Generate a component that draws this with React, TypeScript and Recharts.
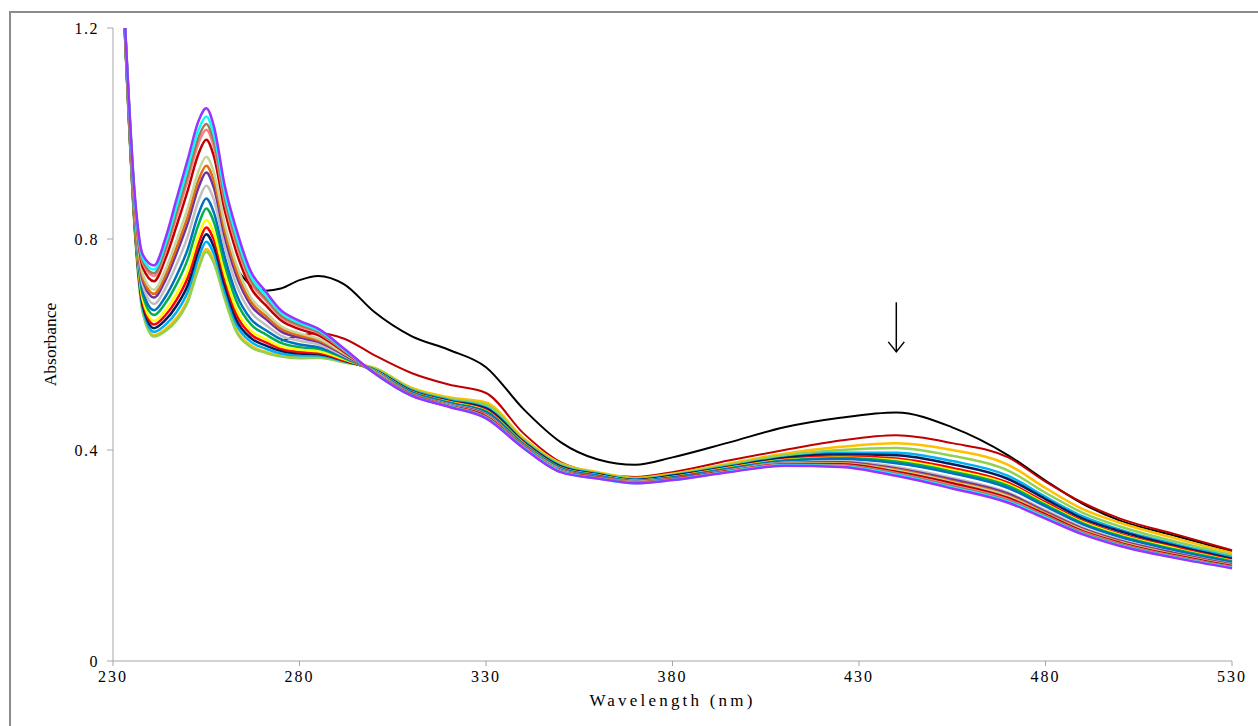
import { LineChart, Line, XAxis, YAxis, ReferenceLine } from "recharts"

// wavelength grid (nm)
const wavelengths = [
  233, 236, 238, 241, 244, 247, 250, 253, 255, 257, 260, 263, 267, 271, 275, 280, 285, 292,
  300, 310, 320, 330, 340, 350, 360, 370, 380, 395, 410, 425, 440, 455, 470, 480, 490, 500, 515, 530,
]

const xTicks = [230, 280, 330, 380, 430, 480, 530]
const yTicks = [0, 0.4, 0.8, 1.2]

// absorbance readings, one array per spectrum (first spectrum first)
const blackAbs = [
  null, null, null, null, null, null, null, null, null, null, null,
  0.745, 0.712, 0.702, 0.706, 0.722, 0.73, 0.714,
  0.662, 0.616, 0.59, 0.557, 0.478, 0.415, 0.382, 0.372, 0.386, 0.414, 0.443, 0.461, 0.471, 0.443, 0.39, 0.342, 0.298, 0.266, 0.237, 0.208,
]
const darkRed2Abs = [
  null, null, null, null, null, null, null, null, null, null, null, null, null, null,
  0.607, 0.616, 0.622, 0.611,
  0.58, 0.546, 0.524, 0.508, 0.432, 0.377, 0.356, 0.349, 0.358, 0.38, 0.4, 0.418, 0.428, 0.413, 0.386, 0.34, 0.3, 0.27, 0.24, 0.21,
]
const goldAbs = [
  1.22, 0.801, 0.662, 0.618, 0.629, 0.65, 0.685, 0.751, 0.781, 0.76, 0.689, 0.629, 0.598, 0.586, 0.579, 0.575, 0.576, 0.567,
  0.556, 0.518, 0.5, 0.49, 0.423, 0.375, 0.358, 0.347, 0.355, 0.374, 0.393, 0.406, 0.413, 0.4, 0.372, 0.328, 0.288, 0.262, 0.232, 0.205,
]
const lightGreenAbs = [
  1.22, 0.8, 0.66, 0.615, 0.625, 0.645, 0.68, 0.745, 0.776, 0.755, 0.685, 0.625, 0.595, 0.584, 0.577, 0.574, 0.575, 0.566,
  0.555, 0.516, 0.497, 0.486, 0.42, 0.373, 0.356, 0.346, 0.353, 0.372, 0.39, 0.4, 0.404, 0.389, 0.361, 0.319, 0.281, 0.255, 0.226, 0.201,
]
const lightBlueAbs = [
  1.221, 0.805, 0.668, 0.624, 0.637, 0.661, 0.699, 0.765, 0.795, 0.773, 0.7, 0.639, 0.605, 0.592, 0.583, 0.579, 0.579, 0.568,
  0.553, 0.514, 0.495, 0.481, 0.417, 0.37, 0.355, 0.344, 0.352, 0.369, 0.386, 0.395, 0.395, 0.379, 0.351, 0.311, 0.274, 0.249, 0.221, 0.197,
]
const navyAbs = [
  1.222, 0.808, 0.673, 0.631, 0.646, 0.673, 0.712, 0.779, 0.809, 0.786, 0.711, 0.648, 0.612, 0.598, 0.588, 0.583, 0.582, 0.569,
  0.552, 0.512, 0.493, 0.479, 0.416, 0.369, 0.354, 0.343, 0.351, 0.368, 0.385, 0.392, 0.39, 0.373, 0.345, 0.307, 0.27, 0.246, 0.218, 0.194,
]
const redAbs = [
  1.223, 0.812, 0.679, 0.638, 0.655, 0.684, 0.726, 0.793, 0.822, 0.799, 0.722, 0.658, 0.619, 0.604, 0.592, 0.586, 0.584, 0.57,
  0.551, 0.511, 0.492, 0.476, 0.414, 0.367, 0.352, 0.342, 0.349, 0.367, 0.382, 0.388, 0.384, 0.366, 0.338, 0.301, 0.265, 0.241, 0.215, 0.191,
]
const yellowAbs = [
  1.224, 0.815, 0.684, 0.645, 0.664, 0.696, 0.739, 0.807, 0.836, 0.812, 0.732, 0.668, 0.626, 0.61, 0.596, 0.59, 0.587, 0.572,
  0.551, 0.51, 0.491, 0.474, 0.413, 0.366, 0.352, 0.342, 0.349, 0.366, 0.381, 0.386, 0.381, 0.362, 0.335, 0.298, 0.263, 0.239, 0.213, 0.19,
]
const greenAbs = [
  1.226, 0.821, 0.693, 0.656, 0.678, 0.714, 0.761, 0.829, 0.858, 0.833, 0.75, 0.684, 0.638, 0.619, 0.603, 0.595, 0.592, 0.574,
  0.55, 0.51, 0.49, 0.473, 0.412, 0.366, 0.351, 0.341, 0.348, 0.365, 0.38, 0.385, 0.378, 0.359, 0.332, 0.296, 0.261, 0.237, 0.211, 0.189,
]
const blueAbs = [
  1.227, 0.826, 0.701, 0.665, 0.69, 0.73, 0.78, 0.849, 0.877, 0.851, 0.765, 0.697, 0.648, 0.627, 0.61, 0.6, 0.595, 0.576,
  0.55, 0.509, 0.489, 0.472, 0.411, 0.365, 0.351, 0.341, 0.348, 0.364, 0.379, 0.383, 0.375, 0.356, 0.328, 0.293, 0.259, 0.235, 0.209, 0.187,
]
const grayAbs = [
  1.229, 0.832, 0.711, 0.677, 0.706, 0.751, 0.804, 0.874, 0.901, 0.875, 0.784, 0.715, 0.661, 0.637, 0.617, 0.607, 0.6, 0.578,
  0.549, 0.507, 0.487, 0.468, 0.409, 0.363, 0.349, 0.34, 0.346, 0.362, 0.376, 0.378, 0.368, 0.347, 0.319, 0.286, 0.253, 0.23, 0.205, 0.184,
]
const purpleAbs = [
  1.231, 0.839, 0.721, 0.689, 0.721, 0.772, 0.829, 0.899, 0.926, 0.898, 0.803, 0.732, 0.674, 0.648, 0.625, 0.613, 0.605, 0.58,
  0.548, 0.506, 0.486, 0.467, 0.408, 0.362, 0.349, 0.339, 0.346, 0.362, 0.375, 0.377, 0.365, 0.344, 0.317, 0.283, 0.251, 0.228, 0.204, 0.183,
]
const orangeAbs = [
  1.232, 0.842, 0.726, 0.696, 0.73, 0.783, 0.842, 0.913, 0.939, 0.911, 0.814, 0.742, 0.681, 0.654, 0.63, 0.617, 0.608, 0.582,
  0.548, 0.506, 0.485, 0.466, 0.408, 0.361, 0.348, 0.339, 0.345, 0.361, 0.374, 0.375, 0.363, 0.341, 0.314, 0.281, 0.249, 0.226, 0.202, 0.182,
]
const oliveAbs = [
  1.233, 0.846, 0.733, 0.704, 0.741, 0.797, 0.858, 0.93, 0.956, 0.927, 0.827, 0.754, 0.689, 0.661, 0.635, 0.621, 0.611, 0.583,
  0.548, 0.505, 0.485, 0.465, 0.407, 0.361, 0.348, 0.339, 0.345, 0.361, 0.374, 0.374, 0.361, 0.339, 0.312, 0.279, 0.248, 0.225, 0.201, 0.181,
]
const darkRedAbs = [
  1.236, 0.855, 0.746, 0.72, 0.762, 0.824, 0.891, 0.963, 0.988, 0.958, 0.853, 0.777, 0.707, 0.674, 0.646, 0.629, 0.618, 0.586,
  0.547, 0.505, 0.484, 0.464, 0.407, 0.36, 0.348, 0.338, 0.345, 0.36, 0.373, 0.373, 0.359, 0.337, 0.309, 0.278, 0.246, 0.224, 0.2, 0.18,
]
const pinkAbs = [
  1.237, 0.86, 0.754, 0.73, 0.774, 0.841, 0.91, 0.983, 1.007, 0.976, 0.868, 0.791, 0.717, 0.683, 0.652, 0.634, 0.622, 0.588,
  0.547, 0.504, 0.483, 0.462, 0.406, 0.359, 0.347, 0.338, 0.344, 0.359, 0.372, 0.371, 0.356, 0.333, 0.306, 0.275, 0.244, 0.222, 0.198, 0.178,
]
const brownAbs = [
  1.238, 0.862, 0.758, 0.735, 0.781, 0.85, 0.92, 0.994, 1.018, 0.986, 0.876, 0.799, 0.722, 0.687, 0.655, 0.637, 0.624, 0.589,
  0.547, 0.504, 0.483, 0.462, 0.405, 0.359, 0.347, 0.338, 0.344, 0.359, 0.371, 0.37, 0.355, 0.331, 0.304, 0.274, 0.243, 0.221, 0.197, 0.178,
]
const cyanAbs = [
  1.239, 0.866, 0.763, 0.742, 0.79, 0.861, 0.934, 1.008, 1.032, 0.999, 0.887, 0.808, 0.729, 0.693, 0.66, 0.641, 0.627, 0.59,
  0.546, 0.503, 0.483, 0.461, 0.405, 0.359, 0.346, 0.337, 0.343, 0.359, 0.371, 0.369, 0.353, 0.329, 0.302, 0.272, 0.241, 0.219, 0.196, 0.177,
]
const violetAbs = [
  1.24, 0.87, 0.77, 0.75, 0.8, 0.875, 0.95, 1.025, 1.048, 1.015, 0.9, 0.82, 0.738, 0.7, 0.665, 0.645, 0.63, 0.592,
  0.546, 0.503, 0.482, 0.46, 0.404, 0.358, 0.346, 0.337, 0.343, 0.358, 0.37, 0.368, 0.351, 0.327, 0.3, 0.27, 0.24, 0.218, 0.195, 0.176,
]

// arrow annotation (data coords)
const arrowX = 440
const arrowFrom = 0.68
const arrowTo = 0.586

const series = [
  { key: "s01", values: blackAbs, color: "#000000", width: 2 },
  { key: "s02", values: darkRed2Abs, color: "#c00000", width: 2 },
  { key: "s03", values: goldAbs, color: "#ffc000", width: 2.5 },
  { key: "s04", values: lightGreenAbs, color: "#92d050", width: 2.5 },
  { key: "s05", values: lightBlueAbs, color: "#00b0f0", width: 2.5 },
  { key: "s06", values: navyAbs, color: "#002060", width: 2.5 },
  { key: "s07", values: redAbs, color: "#ff0000", width: 2.5 },
  { key: "s08", values: yellowAbs, color: "#ffff00", width: 2.5 },
  { key: "s09", values: greenAbs, color: "#00b050", width: 2.5 },
  { key: "s10", values: blueAbs, color: "#0070c0", width: 2.5 },
  { key: "s11", values: grayAbs, color: "#bfbfbf", width: 2.5 },
  { key: "s12", values: purpleAbs, color: "#7030a0", width: 2.5 },
  { key: "s13", values: orangeAbs, color: "#e46c0a", width: 2.5 },
  { key: "s14", values: oliveAbs, color: "#c3d69b", width: 2.5 },
  { key: "s15", values: darkRedAbs, color: "#c00000", width: 2.5 },
  { key: "s16", values: pinkAbs, color: "#ff7c80", width: 2.5 },
  { key: "s17", values: brownAbs, color: "#a0785a", width: 2.5 },
  { key: "s18", values: cyanAbs, color: "#00ffff", width: 2.5 },
  { key: "s19", values: violetAbs, color: "#9933ff", width: 2.5 },
]

const rows = wavelengths.map((w, i) => {
  const row: Record<string, number | null> = { w }
  series.forEach((s) => {
    row[s.key] = s.values[i]
  })
  return row
})

const font = "'Liberation Serif', 'Times New Roman', serif"
const axisGray = "#a6a6a6"

function Arrow(props: any) {
  const { x1, y1, x2, y2 } = props
  return (
    <g>
      <line x1={x1} y1={y1} x2={x2} y2={y2} stroke="#000" strokeWidth={1.5} />
      <polyline
        points={`${x2 - 8},${y2 - 10} ${x2},${y2} ${x2 + 8},${y2 - 10}`}
        fill="none"
        stroke="#000"
        strokeWidth={1.5}
      />
    </g>
  )
}

export default function App() {
  return (
    <div
      style={{
        position: "absolute",
        left: 9,
        top: 11,
        width: 1249,
        height: 715,
        borderLeft: "2px solid #8c8c8c",
        borderTop: "2px solid #8c8c8c",
        background: "#fff",
      }}
    >
      <LineChart
        width={1240}
        height={700}
        data={rows}
        margin={{ top: 15, right: 19, left: 22, bottom: 2 }}
      >
        <XAxis
          dataKey="w"
          type="number"
          domain={[230, 530]}
          ticks={xTicks}
          stroke={axisGray}
          tickSize={5}
          tickMargin={5}
          height={50}
          tick={{ fontSize: 16, fill: "#000", fontFamily: font, letterSpacing: 2 }}
          label={{
            value: "Wavelength (nm)",
            position: "insideBottom",
            offset: 5,
            fontSize: 17,
            fill: "#000",
            fontFamily: font,
            letterSpacing: 3.2,
          }}
        />
        <YAxis
          type="number"
          domain={[0, 1.2]}
          ticks={yTicks}
          allowDataOverflow
          stroke={axisGray}
          tickSize={6}
          tickMargin={8}
          width={80}
          tick={{ fontSize: 16, fill: "#000", fontFamily: font, letterSpacing: 1.5 }}
          label={{
            value: "Absorbance",
            angle: -90,
            position: "insideLeft",
            offset: 17,
            textAnchor: "middle",
            fontSize: 17.5,
            fill: "#000",
            fontFamily: font,
          }}
        />
        {series.map((s) => (
          <Line
            key={s.key}
            dataKey={s.key}
            type="monotone"
            stroke={s.color}
            strokeWidth={s.width}
            dot={false}
            activeDot={false}
            isAnimationActive={false}
          />
        ))}
        <ReferenceLine
          segment={[
            { x: arrowX, y: arrowFrom },
            { x: arrowX, y: arrowTo },
          ]}
          shape={Arrow}
        />
      </LineChart>
    </div>
  )
}
